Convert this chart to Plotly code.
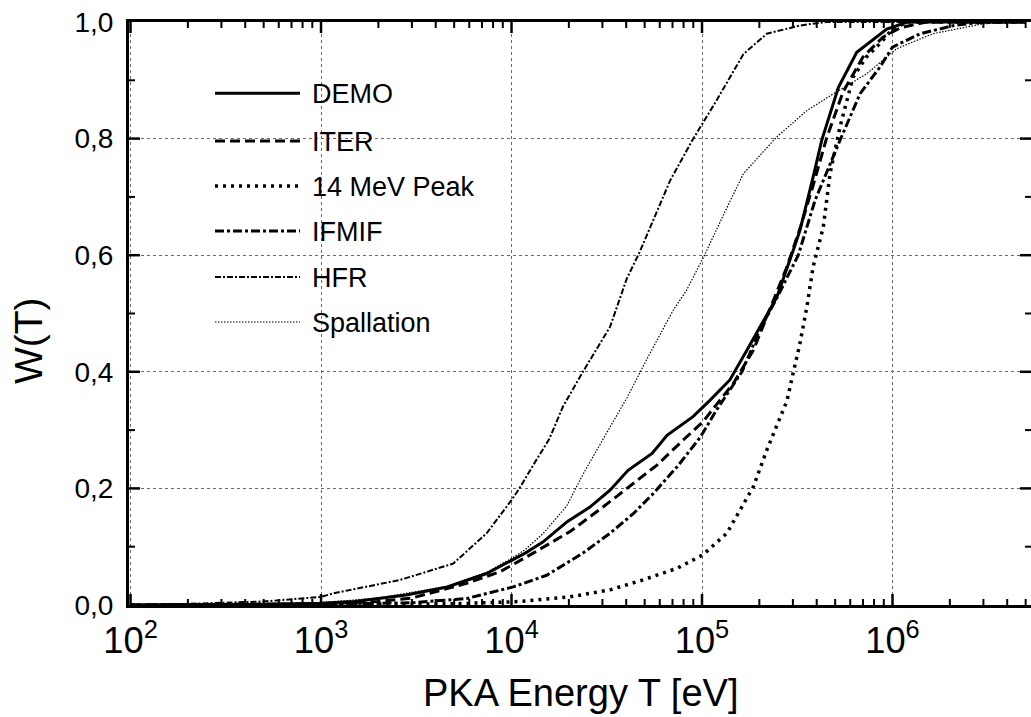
import math
import plotly.graph_objects as go

# Cumulative PKA energy fraction W(T) for several neutron spectra
demo_T = [100, 200, 500, 1000, 1500, 2800, 4600, 7400, 1.0e4, 1.18e4, 1.46e4, 1.96e4, 2.58e4,
          3.29e4, 4.09e4, 5.47e4, 6.55e4, 8.97e4, 1.10e5, 1.40e5, 1.72e5, 2.01e5, 2.47e5, 3.01e5,
          3.27e5, 3.83e5, 4.25e5, 5.2e5, 6.49e5, 9.33e5, 1.2e6, 2e6, 5e6]
demo_W = [0, 0.0005, 0.001, 0.003, 0.006, 0.017, 0.031, 0.054, 0.077, 0.089, 0.108, 0.143, 0.168,
          0.197, 0.231, 0.260, 0.291, 0.323, 0.351, 0.386, 0.437, 0.477, 0.528, 0.608,
          0.643, 0.734, 0.797, 0.888, 0.948, 0.988, 1.0, 1.0, 1.0]

iter_T = [100, 500, 1000, 2000, 3000, 5800, 8700, 1.3e4, 2.03e4, 3.02e4, 4.56e4, 5.8e4, 8.15e4,
          1.01e5, 1.24e5, 1.46e5, 1.86e5, 2.19e5, 2.79e5, 3.3e5, 3.81e5, 4.5e5, 5.5e5, 7e5, 8.9e5,
          1.1e6, 1.5e6, 5e6]
iter_W = [0, 0.001, 0.002, 0.006, 0.012, 0.037, 0.057, 0.089, 0.126, 0.168, 0.214, 0.240, 0.286,
          0.314, 0.351, 0.380, 0.437, 0.494, 0.58, 0.65, 0.717, 0.80, 0.88, 0.94, 0.974,
          0.99, 1.0, 1.0]

peak14_T = [100, 1000, 5000, 1.11e4, 2.03e4, 3.29e4, 4.9e4, 7.4e4, 1.01e5, 1.35e5, 1.58e5, 1.86e5,
            2.19e5, 2.48e5, 2.79e5, 3.01e5, 3.27e5, 3.55e5, 3.83e5, 4.33e5, 4.7e5, 5.3e5, 6.2e5,
            7.3e5, 8.6e5, 1e6, 1.2e6, 5e6]
peak14_W = [0, 0.0005, 0.002, 0.006, 0.014, 0.026, 0.043, 0.063, 0.086, 0.123, 0.163, 0.203,
            0.266, 0.31, 0.35, 0.398, 0.449, 0.511, 0.58, 0.648, 0.74, 0.82, 0.905,
            0.94, 0.963, 0.988, 1.0, 1.0]

ifmif_T = [100, 1000, 3000, 5800, 1.02e4, 1.53e4, 2.37e4, 3.29e4, 4.37e4, 5.54e4, 7.4e4, 9.8e4,
           1.19e5, 1.62e5, 2.0e5, 2.5e5, 3.2e5, 3.92e5, 5.3e5, 6.76e5, 8.6e5, 1e6, 1.4e6, 2.1e6,
           3e6, 5e6]
ifmif_W = [0, 0.001, 0.004, 0.011, 0.031, 0.051, 0.089, 0.123, 0.157, 0.191, 0.237, 0.288,
           0.334, 0.40, 0.47, 0.53, 0.60, 0.694, 0.797, 0.877, 0.923, 0.957, 0.98, 0.994,
           1.0, 1.0]

hfr_T = [100, 200, 500, 1000, 1160, 2600, 4940, 7400, 1.0e4, 1.1e4, 1.3e4, 1.58e4, 1.86e4, 2.37e4,
         3.29e4, 4.03e4, 4.7e4, 6.8e4, 9.0e4, 1.19e5, 1.65e5, 2.19e5, 3.27e5, 4.5e5, 1e6, 5e6]
hfr_W = [0, 0.002, 0.006, 0.014, 0.02, 0.043, 0.071, 0.123, 0.18, 0.2, 0.24, 0.285, 0.34, 0.40,
         0.477, 0.56, 0.605, 0.728, 0.80, 0.865, 0.945, 0.98, 0.994, 1.0, 1.0, 1.0]

spall_T = [100, 1000, 2000, 4600, 7400, 1.0e4, 1.18e4, 1.47e4, 1.95e4, 2.38e4, 3.03e4, 4.03e4,
           5.1e4, 7.07e4, 8.3e4, 1.02e5, 1.3e5, 1.65e5, 2.47e5, 3.55e5, 4.9e5, 7.3e5, 1.05e6,
           1.63e6, 3e6, 5e6]
spall_W = [0, 0.004, 0.012, 0.032, 0.056, 0.08, 0.095, 0.123, 0.17, 0.225, 0.285, 0.355,
           0.42, 0.506, 0.54, 0.597, 0.67, 0.74, 0.803, 0.848, 0.877, 0.911, 0.954,
           0.98, 0.997, 1.0]

series_names = ["DEMO", "ITER", "14 MeV Peak", "IFMIF", "HFR", "Spallation"]
series_T = [demo_T, iter_T, peak14_T, ifmif_T, hfr_T, spall_T]
series_W = [demo_W, iter_W, peak14_W, ifmif_W, hfr_W, spall_W]
series_style = [
    dict(width=3, dash="solid"),
    dict(width=3, dash="10px,5px"),
    dict(width=3.5, dash="3px,5px"),
    dict(width=3, dash="9px,3px,3px,3px"),
    dict(width=2, dash="6px,2px,2px,2px"),
    dict(width=1.2, dash="1.5px,1.5px"),
]

FONT = "Liberation Sans, Arial, Helvetica, sans-serif"
X_RANGE_LOG = [1.992, 6.727]
Y_RANGE = [0.0, 1.0]

W_PX, H_PX = 1031, 717
ML, MR, MT, MB = 129, 0, 22, 112
PW, PH = W_PX - ML - MR, H_PX - MT - MB
PX_PER_DECADE = PW / (X_RANGE_LOG[1] - X_RANGE_LOG[0])
PX_PER_UNIT_Y = PH / (Y_RANGE[1] - Y_RANGE[0])

fig = go.Figure()
for name, T, W, st in zip(series_names, series_T, series_W, series_style):
    fig.add_trace(go.Scatter(x=T, y=W, mode="lines", name=name, showlegend=False,
                             line=dict(color="black", width=st["width"], dash=st["dash"])))

# inward tick marks on all four sides, drawn as short segments in axis units
MAJOR_LEN, MINOR_LEN = 11, 6
x_major = [10 ** e for e in range(2, 7)]
x_minor = [m * 10 ** e for e in range(2, 7) for m in range(2, 10)]
y_major = [0.2, 0.4, 0.6, 0.8]
y_minor = [0.1, 0.3, 0.5, 0.7, 0.9]

for xs_vals, ys_vals, ln, wd in ((x_major, y_major, MAJOR_LEN, 2.5),
                                 (x_minor, y_minor, MINOR_LEN, 2)):
    tx, ty = [], []
    dy = ln / PX_PER_UNIT_Y
    for v in xs_vals:
        if not (X_RANGE_LOG[0] < math.log10(v) < X_RANGE_LOG[1]):
            continue
        tx += [v, v, None, v, v, None]
        ty += [Y_RANGE[0], Y_RANGE[0] + dy, None, Y_RANGE[1], Y_RANGE[1] - dy, None]
    dlog = ln / PX_PER_DECADE
    x_left = 10 ** X_RANGE_LOG[0]
    x_right = 10 ** X_RANGE_LOG[1]
    for v in ys_vals:
        tx += [x_left, 10 ** (X_RANGE_LOG[0] + dlog), None,
               x_right, 10 ** (X_RANGE_LOG[1] - dlog), None]
        ty += [v, v, None, v, v, None]
    fig.add_trace(go.Scatter(x=tx, y=ty, mode="lines", showlegend=False, hoverinfo="skip",
                             line=dict(color="black", width=wd)))

fig.update_xaxes(
    type="log", range=X_RANGE_LOG,
    showline=True, linewidth=3, linecolor="black", mirror=True,
    ticks="", tickmode="linear", tick0=0, dtick=1, exponentformat="power",
    tickfont=dict(family=FONT, size=29, color="black"),
    ticklabelstandoff=3,
    showgrid=True, gridcolor="#6a6a6a", gridwidth=1, griddash="3px,3px",
    zeroline=False,
)
fig.update_yaxes(
    range=Y_RANGE,
    showline=True, linewidth=3, linecolor="black", mirror=False,
    ticks="", tickmode="linear", tick0=0, dtick=0.2, tickformat=".1f",
    tickfont=dict(family=FONT, size=28, color="black"),
    ticklabelstandoff=7,
    showgrid=True, gridcolor="#6a6a6a", gridwidth=1, griddash="3px,3px",
    zeroline=False,
)


def px_x(px):
    return (px - ML) / PW


def px_y(py):
    return (H_PX - MB - py) / PH


# white panel behind the key, kept clear of the top-axis ticks
shapes = [dict(type="rect", xref="paper", yref="paper", layer="between",
               x0=px_x(182), x1=px_x(545), y0=px_y(420), y1=px_y(35),
               fillcolor="white", line=dict(width=0))]
annotations = []
legend_rows = [93.3, 141, 186, 231, 277, 322]
for name, st, row in zip(series_names, series_style, legend_rows):
    shapes.append(dict(type="line", xref="paper", yref="paper", layer="above",
                       x0=px_x(215), x1=px_x(300), y0=px_y(row), y1=px_y(row),
                       line=dict(color="black", width=st["width"], dash=st["dash"])))
    annotations.append(dict(text=name, xref="paper", yref="paper", x=px_x(310), y=px_y(row + 1),
                            xanchor="left", yanchor="middle", showarrow=False,
                            font=dict(family=FONT, size=27, color="black")))

annotations.append(dict(text="PKA Energy T [eV]", xref="paper", yref="paper",
                        x=0.5, y=px_y(693), xanchor="center", yanchor="middle", showarrow=False,
                        font=dict(family=FONT, size=38, color="black")))
annotations.append(dict(text="W(T)", xref="paper", yref="paper", textangle=-90,
                        x=px_x(28), y=px_y(341), xanchor="center", yanchor="middle",
                        showarrow=False, font=dict(family=FONT, size=39, color="black")))

fig.update_layout(
    width=W_PX, height=H_PX,
    margin=dict(l=ML, r=MR, t=MT, b=MB, pad=0),
    paper_bgcolor="white", plot_bgcolor="white",
    separators=",.",
    shapes=shapes, annotations=annotations,
    showlegend=False,
)

fig.write_html("out.html")
